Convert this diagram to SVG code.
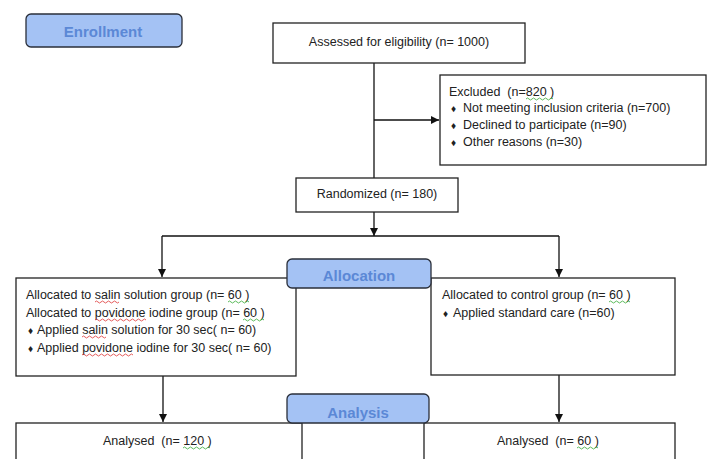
<svg xmlns="http://www.w3.org/2000/svg" width="707" height="459" viewBox="0 0 707 459">
<defs>
<marker id="ah" viewBox="0 0 10 10" refX="10" refY="5" markerWidth="8" markerHeight="8" markerUnits="userSpaceOnUse" orient="auto">
<path d="M0,0 L10,5 L0,10 z" fill="#111"/>
</marker>
<style>
.box{fill:#fff;stroke:#222;stroke-width:1.3}
.hdr{fill:#a4c2f4;stroke:#2a2f3a;stroke-width:1.3}
.ht{font-family:"Liberation Sans",Arial,sans-serif;font-weight:bold;font-size:15px;fill:#5b88d6;text-anchor:middle}
.t{font-family:"Liberation Sans",Arial,sans-serif;font-size:12.5px;fill:#222;white-space:pre}
.b{font-family:"Liberation Sans",Arial,sans-serif;font-size:10px;fill:#222}
.c{text-anchor:middle}
.ln{fill:none;stroke:#111;stroke-width:1.3}
.sq-r{fill:none;stroke:#d33;stroke-width:0.8}
.sq-g{fill:none;stroke:#3a3;stroke-width:0.8}
</style>
</defs>
<rect width="707" height="459" fill="#fff"/>

<g id="connectors">
<path class="ln" d="M374,63 V178"/>
<path class="ln" d="M374,120 H439" marker-end="url(#ah)"/>
<path class="ln" d="M374,212 V236" marker-end="url(#ah)"/>
<path class="ln" d="M162,236 H559"/>
<path class="ln" d="M162,236 V277" marker-end="url(#ah)"/>
<path class="ln" d="M559,236 V277" marker-end="url(#ah)"/>
<path class="ln" d="M163,376 V422" marker-end="url(#ah)"/>
<path class="ln" d="M559,375 V422" marker-end="url(#ah)"/>
</g>

<g id="enrollment">
<rect class="hdr" x="26" y="14" width="156" height="33" rx="5"/>
<text class="ht" x="103" y="37">Enrollment</text>
</g>

<g id="assessed">
<rect class="box" x="273" y="23" width="252" height="40"/>
<text class="t c" x="399" y="46">Assessed for eligibility (n= 1000)</text>
</g>

<g id="excluded">
<rect class="box" x="440" y="75" width="266" height="90"/>
<text class="t" x="449" y="96" xml:space="preserve">Excluded  (n=820 )</text>
<path class="sq-g" d="M526,99 q1.5,-2 3,0 t3,0 t3,0 t3,0 t3,0 t3,0 t3,0 t3,0 t3,0"/>
<text class="b" x="451" y="112">♦</text><text class="t" x="463" y="112">Not meeting inclusion criteria (n=700)</text>
<text class="b" x="451" y="129">♦</text><text class="t" x="463" y="129">Declined to participate (n=90)</text>
<text class="b" x="451" y="146">♦</text><text class="t" x="463" y="146">Other reasons (n=30)</text>
</g>

<g id="randomized">
<rect class="box" x="296" y="178" width="162" height="34"/>
<text class="t c" x="377" y="198">Randomized (n= 180)</text>
</g>

<g id="alloc-left">
<rect class="box" x="16" y="278" width="280" height="98"/>
<text class="t" x="26" y="299">Allocated to salin solution group (n= 60 )</text>
<text class="t" x="26" y="317">Allocated to povidone iodine group (n= 60 )</text>
<text class="b" x="28" y="334">♦</text><text class="t" x="37" y="334">Applied salin solution for 30 sec( n= 60)</text>
<text class="b" x="28" y="352">♦</text><text class="t" x="37" y="352">Applied povidone iodine for 30 sec( n= 60)</text>
<path class="sq-r" d="M95,302 q1.5,-2 3,0 t3,0 t3,0 t3,0 t3,0 t3,0 t3,0 t3,0"/>
<path class="sq-g" d="M228,302 q1.5,-2 3,0 t3,0 t3,0 t3,0 t3,0 t3,0 t3,0"/>
<path class="sq-r" d="M95,320 q1.5,-2 3,0 t3,0 t3,0 t3,0 t3,0 t3,0 t3,0 t3,0 t3,0 t3,0 t3,0 t3,0 t3,0 t3,0 t3,0 t3,0 t3,0"/>
<path class="sq-g" d="M243,320 q1.5,-2 3,0 t3,0 t3,0 t3,0 t3,0 t3,0 t3,0"/>
<path class="sq-r" d="M82,337 q1.5,-2 3,0 t3,0 t3,0 t3,0 t3,0 t3,0 t3,0 t3,0"/>
<path class="sq-r" d="M82,355 q1.5,-2 3,0 t3,0 t3,0 t3,0 t3,0 t3,0 t3,0 t3,0 t3,0 t3,0 t3,0 t3,0 t3,0 t3,0 t3,0 t3,0 t3,0"/>
</g>

<g id="alloc-right">
<rect class="box" x="431" y="278" width="244" height="97"/>
<text class="t" x="442" y="299">Allocated to control group (n= 60 )</text>
<path class="sq-g" d="M609,302 q1.5,-2 3,0 t3,0 t3,0 t3,0 t3,0 t3,0 t3,0"/>
<text class="b" x="443" y="317">♦</text><text class="t" x="453" y="317">Applied standard care (n=60)</text>
</g>

<g id="allocation">
<rect class="hdr" x="287" y="259" width="144" height="29" rx="5"/>
<text class="ht" x="359" y="281">Allocation</text>
</g>

<g id="analysed-left">
<rect class="box" x="16" y="423" width="286" height="50"/>
<text class="t" x="103" y="445" xml:space="preserve">Analysed  (n= 120 )</text>
<path class="sq-g" d="M183,448 q1.5,-2 3,0 t3,0 t3,0 t3,0 t3,0 t3,0 t3,0 t3,0 t3,0"/>
</g>

<g id="analysed-right">
<rect class="box" x="424" y="423" width="251" height="50"/>
<text class="t" x="497" y="445" xml:space="preserve">Analysed  (n= 60 )</text>
<path class="sq-g" d="M577,448 q1.5,-2 3,0 t3,0 t3,0 t3,0 t3,0 t3,0 t3,0"/>
</g>

<g id="analysis">
<rect class="hdr" x="287" y="394" width="142" height="29" rx="5"/>
<text class="ht" x="358" y="418">Analysis</text>
</g>
</svg>
